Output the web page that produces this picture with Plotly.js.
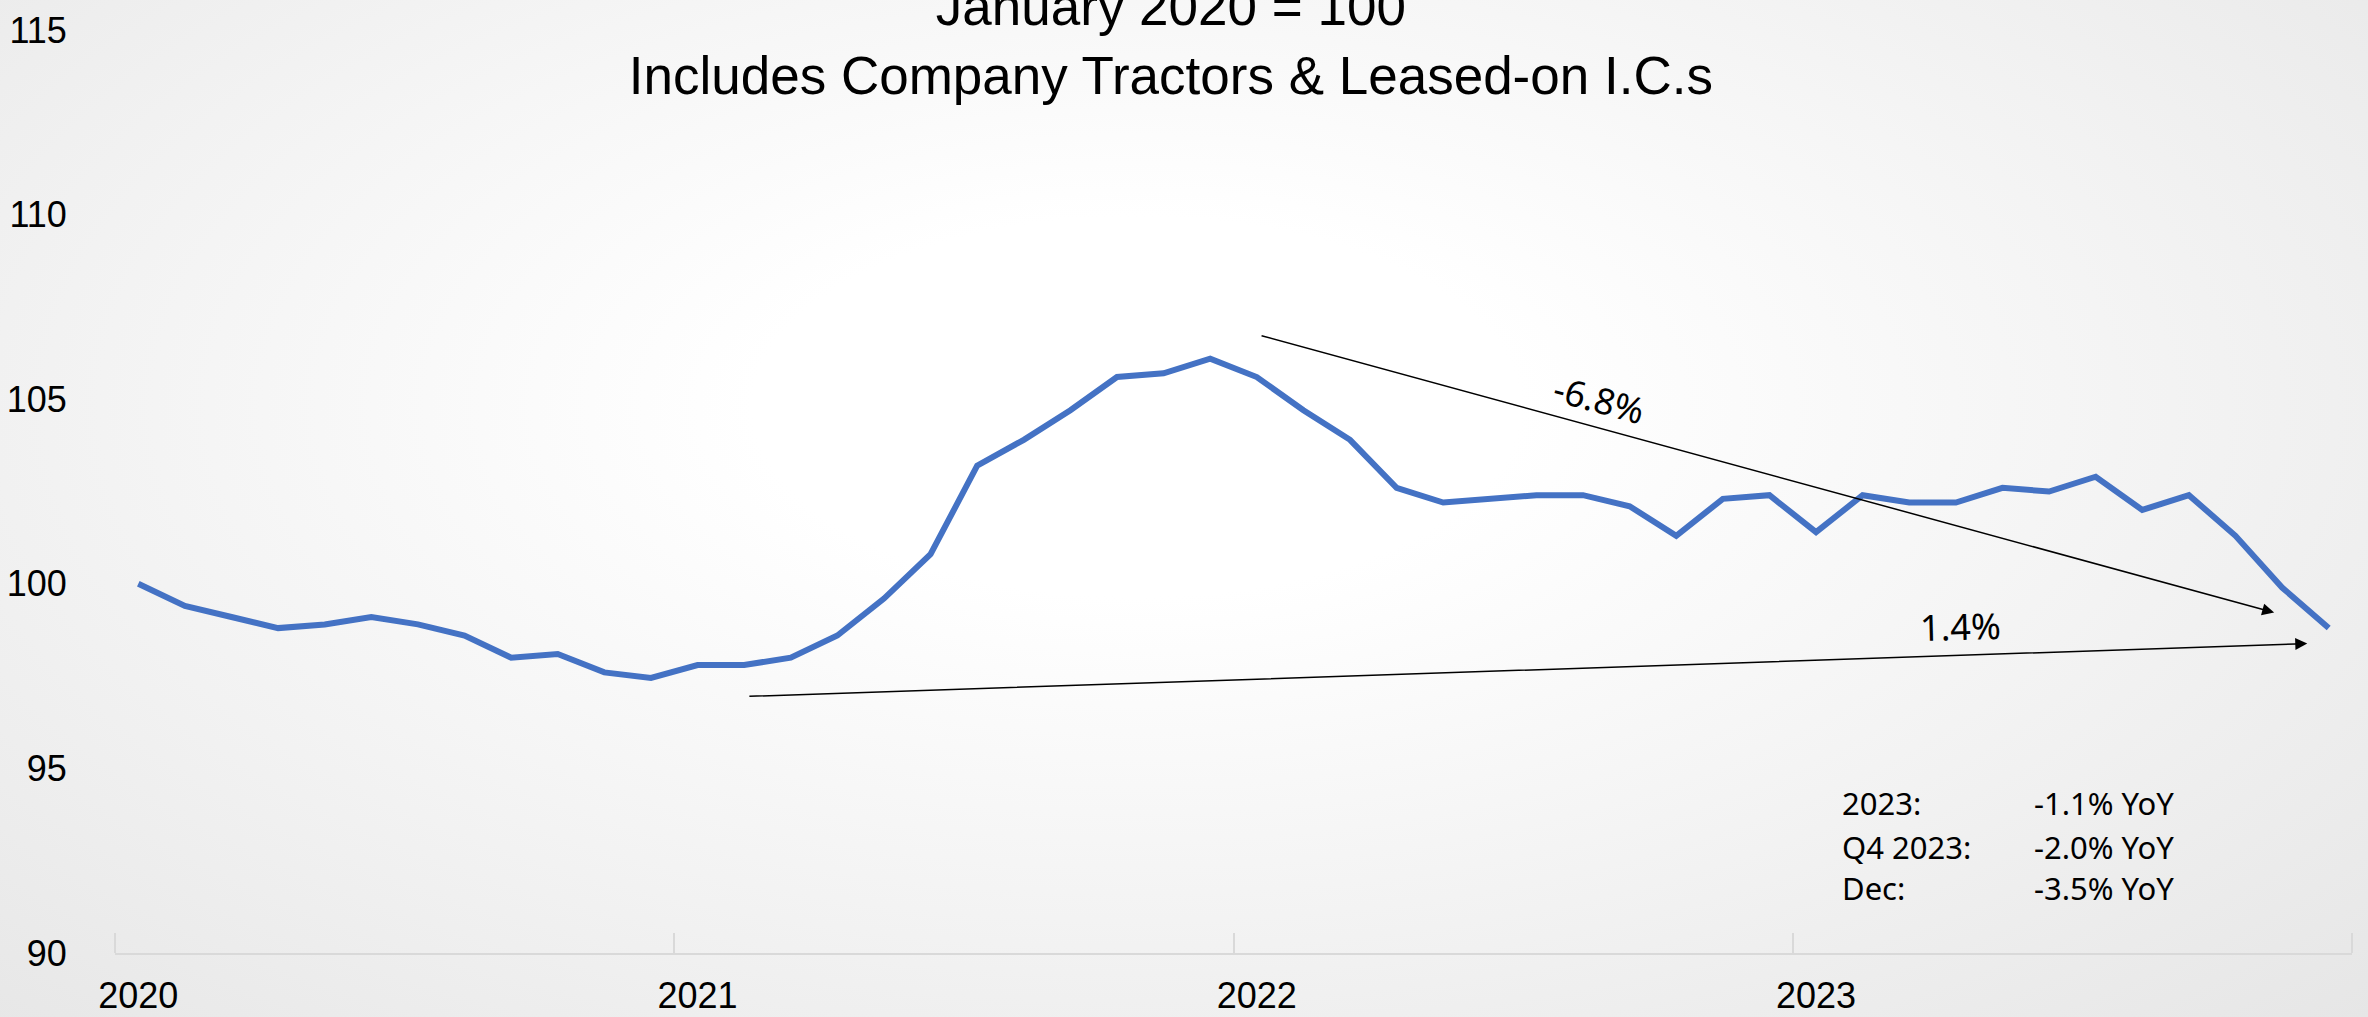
<!DOCTYPE html>
<html>
<head>
<meta charset="utf-8">
<script src="https://cdn.plot.ly/plotly-3.0.1.min.js"></script>
<style>
  html, body { margin: 0; padding: 0; width: 2368px; height: 1017px; overflow: hidden; }
  body { background: radial-gradient(ellipse at 48% 40%, #ffffff 0%, #ffffff 22%, #e6e6e6 100%); }
  #chart { width: 2368px; height: 1017px; }
</style>
</head>
<body>
<div id="chart"></div>
<script>
// Monthly index, January 2020 = 100 (Jan 2020 .. Dec 2023)
const months = [
  'Jan 2020','Feb 2020','Mar 2020','Apr 2020','May 2020','Jun 2020','Jul 2020','Aug 2020','Sep 2020','Oct 2020','Nov 2020','Dec 2020',
  'Jan 2021','Feb 2021','Mar 2021','Apr 2021','May 2021','Jun 2021','Jul 2021','Aug 2021','Sep 2021','Oct 2021','Nov 2021','Dec 2021',
  'Jan 2022','Feb 2022','Mar 2022','Apr 2022','May 2022','Jun 2022','Jul 2022','Aug 2022','Sep 2022','Oct 2022','Nov 2022','Dec 2022',
  'Jan 2023','Feb 2023','Mar 2023','Apr 2023','May 2023','Jun 2023','Jul 2023','Aug 2023','Sep 2023','Oct 2023','Nov 2023','Dec 2023'
];
const indexValues = [
  100.0, 99.4, 99.1, 98.8, 98.9, 99.1, 98.9, 98.6, 98.0, 98.1, 97.6, 97.45,
  97.8, 97.8, 98.0, 98.6, 99.6, 100.8, 103.2, 103.9, 104.7, 105.6, 105.7, 106.1,
  105.6, 104.7, 103.9, 102.6, 102.2, 102.3, 102.4, 102.4, 102.1, 101.3, 102.3, 102.4,
  101.4, 102.4, 102.2, 102.2, 102.6, 102.5, 102.9, 102.0, 102.4, 101.3, 99.9, 98.8
];
const yearLabels = ['2020', '2021', '2022', '2023'];
const yearStartIndex = [0, 12, 24, 36];
const yearBoundaries = [-0.5, 11.5, 23.5, 35.5, 47.5];
const yTicks = [90, 95, 100, 105, 110, 115];

// Trend arrows: [startIndex, startValue, endIndex, endValue]
const trendDown = [24.07, 106.73, 45.83, 99.22];
const trendUp = [13.08, 96.95, 46.54, 98.38];
const trendDownLabel = '-6.8%';
const trendUpLabel = '1.4%';

const statLabels = ['2023:', 'Q4 2023:', 'Dec:'];
const statValues = ['-1.1% YoY', '-2.0% YoY', '-3.5% YoY'];
const statRowValue = [94.05, 92.88, 91.75];

const titleLines = ['January 2020 = 100', 'Includes Company Tractors &amp; Leased-on I.C.s'];

const xIdx = months.map((_, i) => i);

const trace = {
  x: xIdx,
  y: indexValues,
  text: months,
  type: 'scatter',
  mode: 'lines',
  line: { color: '#4472C4', width: 6 },
  hoverinfo: 'text+y'
};

const annFont = { family: 'Noto Sans, DejaVu Sans, sans-serif', size: 36, color: '#000' };
const statFont = { family: 'Noto Sans, DejaVu Sans, sans-serif', size: 31, color: '#000' };

const annotations = [
  {
    x: trendDown[2], y: trendDown[3], ax: trendDown[0], ay: trendDown[1],
    xref: 'x', yref: 'y', axref: 'x', ayref: 'y',
    text: '', showarrow: true, arrowhead: 2, arrowsize: 1.6, arrowwidth: 1.5, arrowcolor: '#000'
  },
  {
    x: trendUp[2], y: trendUp[3], ax: trendUp[0], ay: trendUp[1],
    xref: 'x', yref: 'y', axref: 'x', ayref: 'y',
    text: '', showarrow: true, arrowhead: 2, arrowsize: 1.6, arrowwidth: 1.5, arrowcolor: '#000'
  },
  {
    x: 31.35, y: 105.0, xref: 'x', yref: 'y', text: trendDownLabel, showarrow: false,
    textangle: 15, font: annFont
  },
  {
    x: 39.1, y: 98.85, xref: 'x', yref: 'y', text: trendUpLabel, showarrow: false,
    textangle: -1.5, font: annFont
  }
];
statLabels.forEach((lab, i) => {
  annotations.push({ x: 36.52, y: statRowValue[i], xref: 'x', yref: 'y', xanchor: 'left',
    text: lab, showarrow: false, font: statFont });
  annotations.push({ x: 40.64, y: statRowValue[i], xref: 'x', yref: 'y', xanchor: 'left',
    text: statValues[i], showarrow: false, font: statFont });
});

const layout = {
  width: 2368,
  height: 1017,
  paper_bgcolor: 'rgba(0,0,0,0)',
  plot_bgcolor: 'rgba(0,0,0,0)',
  margin: { l: 115, r: 16, t: 30, b: 64 },
  font: { family: 'Liberation Sans, Arial, sans-serif', color: '#000' },
  showlegend: false,
  title: {
    text: titleLines.join('<br>'),
    font: { family: 'Liberation Sans, Arial, sans-serif', size: 53, color: '#000' },
    xref: 'paper', x: 0.472, xanchor: 'center',
    yref: 'container', y: 0.975, yanchor: 'bottom'
  },
  xaxis: {
    range: [-0.5, 47.5],
    tickmode: 'array',
    tickvals: yearStartIndex,
    ticktext: yearLabels,
    ticks: 'outside',
    ticklen: 10,
    tickcolor: 'rgba(0,0,0,0)',
    tickfont: { size: 36, family: 'Liberation Sans, Arial, sans-serif', color: '#000' },
    showgrid: false,
    zeroline: false,
    showline: true,
    linecolor: '#d9d9d9',
    linewidth: 2,
    minor: {
      tickmode: 'array',
      tickvals: yearBoundaries,
      ticks: 'inside',
      ticklen: 20,
      tickwidth: 2,
      tickcolor: '#d9d9d9',
      showgrid: false
    }
  },
  yaxis: {
    range: [90, 115],
    tickmode: 'array',
    tickvals: yTicks,
    ticks: 'outside',
    ticklen: 40,
    tickcolor: 'rgba(0,0,0,0)',
    tickfont: { size: 36, family: 'Liberation Sans, Arial, sans-serif', color: '#000' },
    showgrid: false,
    zeroline: false,
    showline: false
  },
  annotations: annotations
};

Plotly.newPlot('chart', [trace], layout, { displayModeBar: false, staticPlot: true });
</script>
</body>
</html>
